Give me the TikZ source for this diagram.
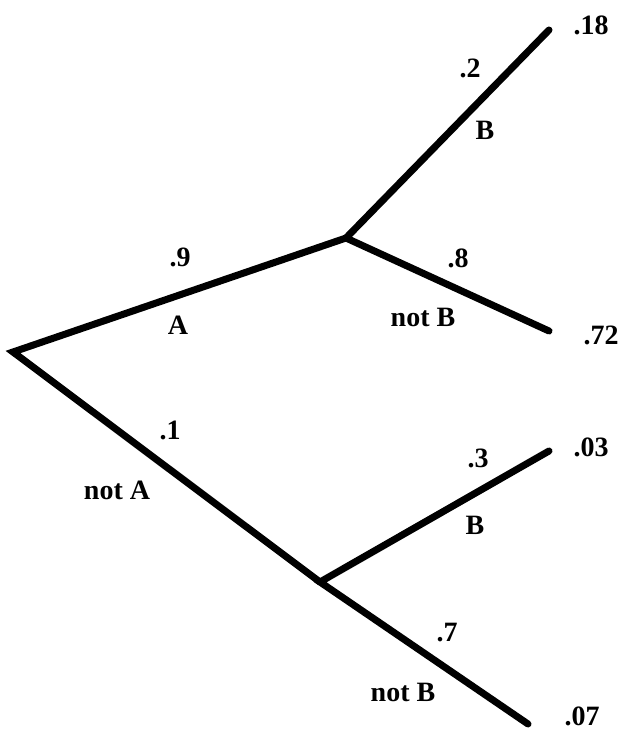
\documentclass[tikz,border=0pt]{standalone}
\usepackage{fontspec}
\setmainfont{Liberation Serif}
\begin{document}
\begin{tikzpicture}[x=1pt,y=-1pt,
  branch/.style={line width=7pt,line join=miter,line cap=round},
  lbl/.style={font=\fontsize{28}{30}\selectfont\bfseries,inner sep=0pt}]
\useasboundingbox[fill=white] (0,0) rectangle (621,730);
\coordinate (root) at (13,352);
\coordinate (a) at (346,238);
\coordinate (na) at (320,582);
\coordinate (e1) at (549,30);
\coordinate (e2) at (549,331);
\coordinate (e3) at (549,451);
\coordinate (e4) at (528,724);
\draw[branch] (a) -- (root) -- (na);
\draw[branch] (e1) -- (a) -- (e2);
\draw[branch] (e3) -- (na) -- (e4);
\node[lbl] (p18) at (591,25) {.18};
\node[lbl] (p72) at (601,335) {.72};
\node[lbl] (p03) at (591,447) {.03};
\node[lbl] (p07) at (582,716) {.07};
\node[lbl] (l9) at (180,257) {.9};
\node[lbl] (lA) at (178,325) {A};
\node[lbl] (l2) at (470,68) {.2};
\node[lbl] (lB1) at (485,130) {B};
\node[lbl] (l8) at (458,258) {.8};
\node[lbl] (lnB1) at (423,317) {not B};
\node[lbl] (l1) at (170,430) {.1};
\node[lbl] (lnA) at (117,490) {not A};
\node[lbl] (l3) at (478,458) {.3};
\node[lbl] (lB2) at (475,525) {B};
\node[lbl] (l7) at (447,633) {.7};
\node[lbl] (lnB2) at (403,692) {not B};
\end{tikzpicture}
\end{document}
